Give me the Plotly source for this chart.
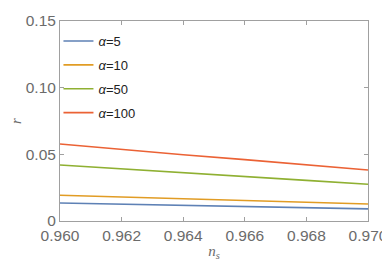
import plotly.graph_objects as go

ns = [0.960, 0.962, 0.964, 0.966, 0.968, 0.970]
r_a5 = [0.0135, 0.0126, 0.0117, 0.0108, 0.0099, 0.0091]
r_a10 = [0.0193, 0.0180, 0.0166, 0.0152, 0.0139, 0.0127]
r_a50 = [0.0420, 0.0390, 0.0362, 0.0335, 0.0305, 0.0276]
r_a100 = [0.0578, 0.0536, 0.0497, 0.0460, 0.0420, 0.0383]

series = [("<i>α</i>=5", r_a5, "#5E81B5"),
          ("<i>α</i>=10", r_a10, "#E19C24"),
          ("<i>α</i>=50", r_a50, "#8FB032"),
          ("<i>α</i>=100", r_a100, "#EB6235")]

xticks = [0.960, 0.962, 0.964, 0.966, 0.968, 0.970]
xticklabels = ["0.960", "0.962", "0.964", "0.966", "0.968", "0.970"]
yticks = [0, 0.05, 0.10, 0.15]
yticklabels = ["0", "0.05", "0.10", "0.15"]

fig = go.Figure()
for i, (name, vals, col) in enumerate(series):
    fig.add_trace(go.Scatter(x=ns, y=vals, mode="lines", name=name,
                             legendgroup=str(i),
                             line=dict(color=col, width=1.6)))

axis_common = dict(showgrid=False, zeroline=False, showline=True, linecolor="#a0a0a0",
                   linewidth=1, mirror="ticks", ticks="inside", ticklen=4,
                   tickcolor="#a0a0a0", tickwidth=1, ticklabeloverflow="allow",
                   automargin=False,
                   tickfont=dict(family="Liberation Sans", size=15.5, color="#6b6b6b"))

# page body has an 8px default margin, so the figure is sized to fill the rest
fig.update_layout(
    width=382, height=253,
    margin=dict(l=52, r=22, t=13, b=40, autoexpand=False),
    paper_bgcolor="white", plot_bgcolor="white",
    showlegend=True,
    legend=dict(x=-0.005, y=0.975, xanchor="left", yanchor="top",
                bgcolor="rgba(0,0,0,0)", tracegroupgap=4,
                font=dict(family="Liberation Sans", size=13, color="#222")),
    xaxis=dict(range=[0.960 - 1e-7, 0.970 + 1e-7], tickvals=xticks, ticktext=xticklabels,
               title=dict(text="<i>n</i><sub><i>s</i></sub>", standoff=4,
                          font=dict(family="Liberation Serif", size=15, color="#6b6b6b")),
               **axis_common),
    yaxis=dict(range=[0, 0.15], tickvals=yticks, ticktext=yticklabels,
               title=dict(text="<i>r</i>", standoff=22,
                          font=dict(family="Liberation Serif", size=15, color="#6b6b6b")),
               **axis_common),
)

fig.write_html("out.html")
